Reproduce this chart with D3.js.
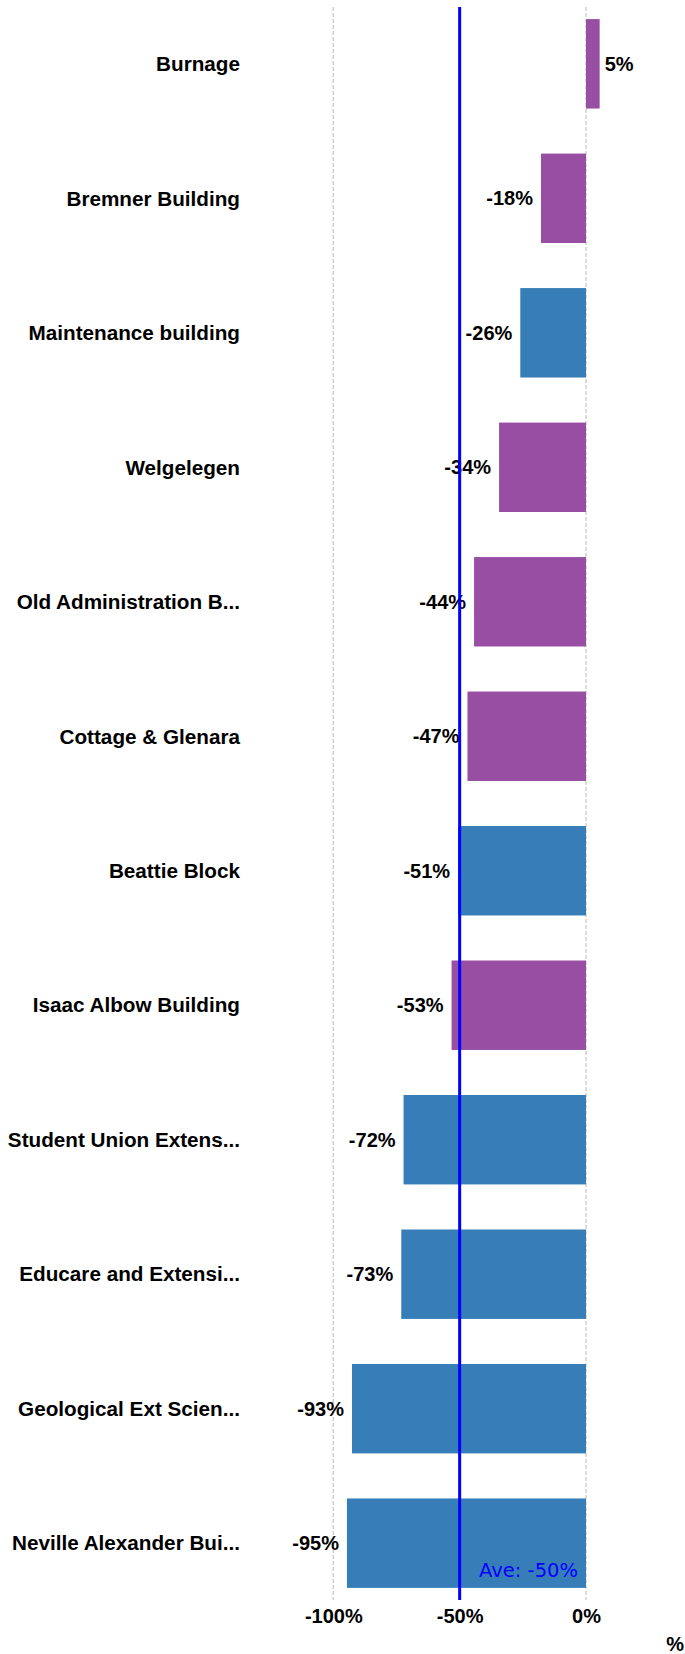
<!DOCTYPE html>
<meta charset="utf-8">
<script src="https://d3js.org/d3.v7.min.js"></script>
<style>
  body { margin: 0; background: #fff; }
  text { font-family: "Liberation Sans", Arial, sans-serif; }
</style>
<div id="chart"></div>
<script>

// data
var buildings = ["Burnage", "Bremner Building", "Maintenance building", "Welgelegen",
  "Old Administration B...", "Cottage & Glenara", "Beattie Block", "Isaac Albow Building",
  "Student Union Extens...", "Educare and Extensi...", "Geological Ext Scien...", "Neville Alexander Bui..."];
var change = [5.4, -17.8, -26, -34.4, -44.3, -46.9, -50.6, -53.2, -72.2, -73.1, -92.6, -94.6];
var group = ["b", "b", "a", "b", "b", "b", "a", "b", "a", "a", "a", "a"];
var ticks = [-100, -50, 0];
var average = -50;

var width = 685, height = 1654;

var svg = d3.select("#chart").append("svg")
  .attr("width", width)
  .attr("height", height);

var x = d3.scaleLinear()
  .domain([-100, 0])
  .range([333.3, 586]);

var y = d3.scaleBand()
  .domain(buildings)
  .range([7, 1600])
  .paddingInner(0.335)
  .paddingOuter(0.09);

var color = d3.scaleOrdinal()
  .domain(["a", "b"])
  .range(["#377eb8", "#984ea3"]);

// dashed grid lines
svg.append("g")
  .selectAll("line")
  .data(ticks)
  .enter().append("line")
    .attr("x1", function(d) { return x(d); })
    .attr("x2", function(d) { return x(d); })
    .attr("y1", 7)
    .attr("y2", 1600)
    .attr("stroke", "#d0d0d0")
    .attr("stroke-width", 1.5)
    .attr("stroke-dasharray", "4,2");

// bars
svg.append("g")
  .selectAll("rect")
  .data(buildings)
  .enter().append("rect")
    .attr("x", function(d, i) { return x(Math.min(0, change[i])); })
    .attr("y", function(d) { return y(d); })
    .attr("width", function(d, i) { return Math.abs(x(change[i]) - x(0)); })
    .attr("height", y.bandwidth())
    .attr("fill", function(d, i) { return color(group[i]); });

// value labels
svg.append("g")
  .selectAll("text")
  .data(buildings)
  .enter().append("text")
    .attr("x", function(d, i) { return change[i] < 0 ? x(change[i]) - 8 : x(change[i]) + 5; })
    .attr("y", function(d) { return y(d) + y.bandwidth() / 2; })
    .attr("dy", "0.35em")
    .attr("text-anchor", function(d, i) { return change[i] < 0 ? "end" : "start"; })
    .style("font-size", "20px")
    .style("font-weight", "bold")
    .text(function(d, i) { return Math.round(change[i]) + "%"; });

// category labels
svg.append("g")
  .selectAll("text")
  .data(buildings)
  .enter().append("text")
    .attr("x", 240)
    .attr("y", function(d) { return y(d) + y.bandwidth() / 2; })
    .attr("dy", "0.35em")
    .attr("text-anchor", "end")
    .style("font-size", "20.7px")
    .style("font-weight", "bold")
    .text(function(d) { return d; });

// x axis
var xAxis = svg.append("g")
  .attr("transform", "translate(0,1600)")
  .call(d3.axisBottom(x).tickValues(ticks).tickSize(0).tickPadding(9)
    .tickFormat(function(d) { return d + "%"; }));
xAxis.select(".domain").remove();
xAxis.selectAll("text")
  .style("font-family", "'Liberation Sans', Arial, sans-serif")
  .style("font-size", "20px")
  .style("font-weight", "bold")
  .attr("fill", "#000");

svg.append("text")
  .attr("x", 684)
  .attr("y", 1651)
  .attr("text-anchor", "end")
  .style("font-size", "20px")
  .style("font-weight", "bold")
  .text("%");

// average line
svg.append("line")
  .attr("x1", x(average))
  .attr("x2", x(average))
  .attr("y1", 7)
  .attr("y2", 1600)
  .attr("stroke", "#0000ff")
  .attr("stroke-width", 3);

svg.append("text")
  .attr("x", 578)
  .attr("y", 1577)
  .attr("text-anchor", "end")
  .attr("fill", "#0000ff")
  .style("font-family", "'DejaVu Sans', Verdana, sans-serif")
  .style("font-size", "19.5px")
  .text("Ave: " + average + "%");

</script>
